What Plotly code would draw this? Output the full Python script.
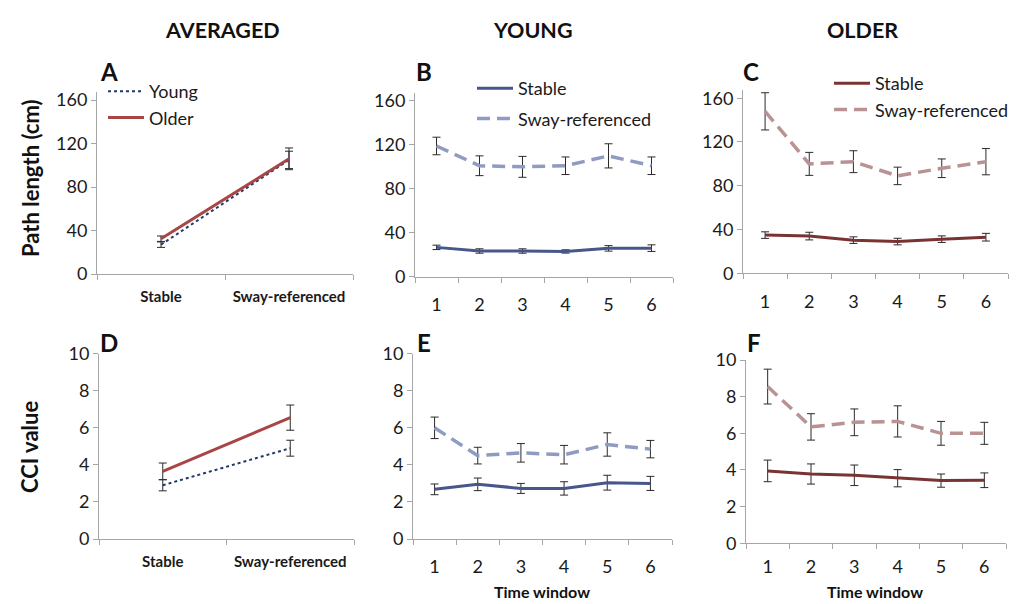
import plotly.graph_objects as go

W, H = 1024, 604

# ---------------- data ----------------
conditions = ["Stable", "Sway-referenced"]
windows = ["1", "2", "3", "4", "5", "6"]

# Panel A: averaged path length (cm)
avg_path_young = [27, 105]
avg_path_young_err = [2.5, 8]
avg_path_older = [32.5, 106]
avg_path_older_err = [2.5, 10]

# Panel D: averaged CCI value
avg_cci_young = [2.9, 4.9]
avg_cci_young_err = [0.3, 0.43]
avg_cci_older = [3.65, 6.55]
avg_cci_older_err = [0.45, 0.68]

# Panel B: young path length by time window
young_path_stable = [26.7, 23.4, 23.4, 23.0, 25.8, 26.0]
young_path_stable_err = [2.0, 2.0, 2.0, 1.5, 2.5, 3.0]
young_path_sway = [119, 101, 100, 101, 110, 101]
young_path_sway_err = [8, 9, 9.5, 8, 11, 8]

# Panel C: older path length by time window
older_path_stable = [34.9, 34.0, 30.3, 29.0, 31.2, 33.0]
older_path_stable_err = [3, 3.5, 3, 3, 3, 3.5]
older_path_sway = [148, 100, 102, 89, 96, 102]
older_path_sway_err = [17, 10.5, 10, 8, 8.5, 12]

# Panel E: young CCI by time window
young_cci_stable = [2.68, 2.95, 2.73, 2.73, 3.04, 3.0]
young_cci_stable_err = [0.29, 0.34, 0.27, 0.36, 0.4, 0.38]
young_cci_sway = [6.0, 4.5, 4.65, 4.55, 5.1, 4.85]
young_cci_sway_err = [0.58, 0.45, 0.5, 0.5, 0.63, 0.47]

# Panel F: older CCI by time window
older_cci_stable = [3.95, 3.78, 3.71, 3.55, 3.42, 3.44]
older_cci_stable_err = [0.59, 0.55, 0.56, 0.47, 0.36, 0.4]
older_cci_sway = [8.55, 6.35, 6.6, 6.65, 6.0, 6.0]
older_cci_sway_err = [0.95, 0.72, 0.73, 0.85, 0.65, 0.6]

path_ticks = [0, 40, 80, 120, 160]
cci_ticks = [0, 2, 4, 6, 8, 10]

# ---------------- styles ----------------
C_YOUNG_AVG = "#1f3a68"
C_OLDER_AVG = "#a84646"
C_YOUNG_STABLE = "#47578c"
C_YOUNG_SWAY = "#8f9bc2"
C_OLDER_STABLE = "#7a3333"
C_OLDER_SWAY = "#b99393"
ERR_C = "#2a2a2a"
AX_C = "#a6a6a6"
TXT_C = "#1a1a1a"
FONT = "Lato"
DASH = "13px,7px"


def fx(p):
    return p / W


def fy(p):
    return 1 - p / H


def err(arr):
    return dict(type="data", array=arr, color=ERR_C, thickness=1, width=4, visible=True)


fig = go.Figure()


def add(xs, ys, errs, color, width, dash, name, ax, legend=None, group=None):
    fig.add_trace(go.Scatter(
        x=xs, y=ys, mode="lines", name=name,
        line=dict(color=color, width=width, dash=dash),
        error_y=err(errs),
        xaxis="x" + ax if ax != "1" else "x",
        yaxis="y" + ax if ax != "1" else "y",
        showlegend=legend is not None,
        legend=legend if legend else "legend",
        legendgroup=group,
    ))


# A
add(conditions, avg_path_young, avg_path_young_err, C_YOUNG_AVG, 2, "dot", "Young", "1", "legend", "a1")
add(conditions, avg_path_older, avg_path_older_err, C_OLDER_AVG, 3, "solid", "Older", "1", "legend", "a2")
# B
add(windows, young_path_stable, young_path_stable_err, C_YOUNG_STABLE, 3, "solid", "Stable", "2", "legend2", "b1")
add(windows, young_path_sway, young_path_sway_err, C_YOUNG_SWAY, 3.5, DASH, "Sway-referenced", "2", "legend2", "b2")
# C
add(windows, older_path_stable, older_path_stable_err, C_OLDER_STABLE, 3, "solid", "Stable", "3", "legend3", "c1")
add(windows, older_path_sway, older_path_sway_err, C_OLDER_SWAY, 3.5, DASH, "Sway-referenced", "3", "legend3", "c2")
# D
add(conditions, avg_cci_young, avg_cci_young_err, C_YOUNG_AVG, 2, "dot", "Young", "4")
add(conditions, avg_cci_older, avg_cci_older_err, C_OLDER_AVG, 3, "solid", "Older", "4")
# E
add(windows, young_cci_stable, young_cci_stable_err, C_YOUNG_STABLE, 3, "solid", "Stable", "5")
add(windows, young_cci_sway, young_cci_sway_err, C_YOUNG_SWAY, 3.5, DASH, "Sway-referenced", "5")
# F
add(windows, older_cci_stable, older_cci_stable_err, C_OLDER_STABLE, 3, "solid", "Stable", "6")
add(windows, older_cci_sway, older_cci_sway_err, C_OLDER_SWAY, 3.5, DASH, "Sway-referenced", "6")

# axis geometry in pixels: (left, right, bottom, top, x-label standoff)
geom = {
    "1": (97, 353, 274, 92, 9),
    "2": (415, 673, 276.7, 92.7, 12),
    "3": (743, 1008, 273.3, 90, 12),
    "4": (99, 354, 539, 353.7, 9),
    "5": (413, 672, 539, 353.7, 11),
    "6": (746, 1006, 543.3, 360, 7),
}

layout = dict(
    width=W, height=H,
    margin=dict(l=0, r=0, t=0, b=0, pad=0, autoexpand=False),
    paper_bgcolor="white", plot_bgcolor="white",
    font=dict(family=FONT, color=TXT_C),
)

for ax, (l, r, b, t, so) in geom.items():
    xname = "xaxis" if ax == "1" else "xaxis" + ax
    yname = "yaxis" if ax == "1" else "yaxis" + ax
    anchor_y = "y" if ax == "1" else "y" + ax
    anchor_x = "x" if ax == "1" else "x" + ax
    is_avg = ax in ("1", "4")
    is_path = ax in ("1", "2", "3")
    layout[xname] = dict(
        domain=[fx(l), fx(r)], anchor=anchor_y, type="category",
        range=[-0.5, (1.5 if is_avg else 5.5)],
        tickson="boundaries", ticks="outside", ticklen=5, tickcolor=AX_C,
        ticklabelstandoff=so,
        showline=True, linecolor=AX_C, linewidth=1, showgrid=False, zeroline=False,
        tickfont=dict(family=FONT, size=15 if is_avg else 18, color=TXT_C,
                      weight="bold" if is_avg else "normal"),
        automargin=False, fixedrange=True,
    )
    layout[yname] = dict(
        domain=[fy(b), fy(t)], anchor=anchor_x,
        range=[0, 167.5] if is_path else [0, 10],
        tickvals=path_ticks if is_path else cci_ticks,
        ticks="outside", ticklen=5, tickcolor=AX_C,
        showline=True, linecolor=AX_C, linewidth=1, showgrid=False, zeroline=False,
        tickfont=dict(family=FONT, size=18, color=TXT_C),
        automargin=False, fixedrange=True,
    )

legend_common = dict(bgcolor="rgba(0,0,0,0)", font=dict(family=FONT, size=18, color=TXT_C),
                     xref="paper", yref="paper", xanchor="left", yanchor="top", itemwidth=36,
                     traceorder="grouped", itemclick=False, itemdoubleclick=False)
layout["legend"] = dict(legend_common, x=fx(103), y=fy(73), tracegroupgap=0)
layout["legend2"] = dict(legend_common, x=fx(472), y=fy(70), tracegroupgap=4)
layout["legend3"] = dict(legend_common, x=fx(829), y=fy(65), tracegroupgap=0)

annotations = []


def text(s, x, y, size, bold=True, angle=0):
    annotations.append(dict(
        text=("<b>%s</b>" % s) if bold else s, x=fx(x), y=fy(y), xref="paper", yref="paper",
        showarrow=False, xanchor="center", yanchor="middle", textangle=angle,
        font=dict(family=FONT, size=size, color="#111"),
    ))


text("AVERAGED", 222, 30, 21.5)
text("YOUNG", 533, 30, 21.5)
text("OLDER", 862, 30, 21.5)
for s, x, y in [("A", 109, 72), ("B", 424, 72), ("C", 751, 72),
                ("D", 109, 342), ("E", 424, 342), ("F", 754, 342)]:
    text(s, x, y, 24)
text("Path length (cm)", 30, 178, 22, angle=-90)
text("CCI value", 30, 447, 22, angle=-90)
text("Time window", 542, 591, 16)
text("Time window", 875, 591, 16)
layout["annotations"] = annotations

fig.update_layout(**layout)
fig.write_html("out.html", config={"displayModeBar": False},
               post_script="document.body.style.margin='0px';document.body.style.overflow='hidden';")
